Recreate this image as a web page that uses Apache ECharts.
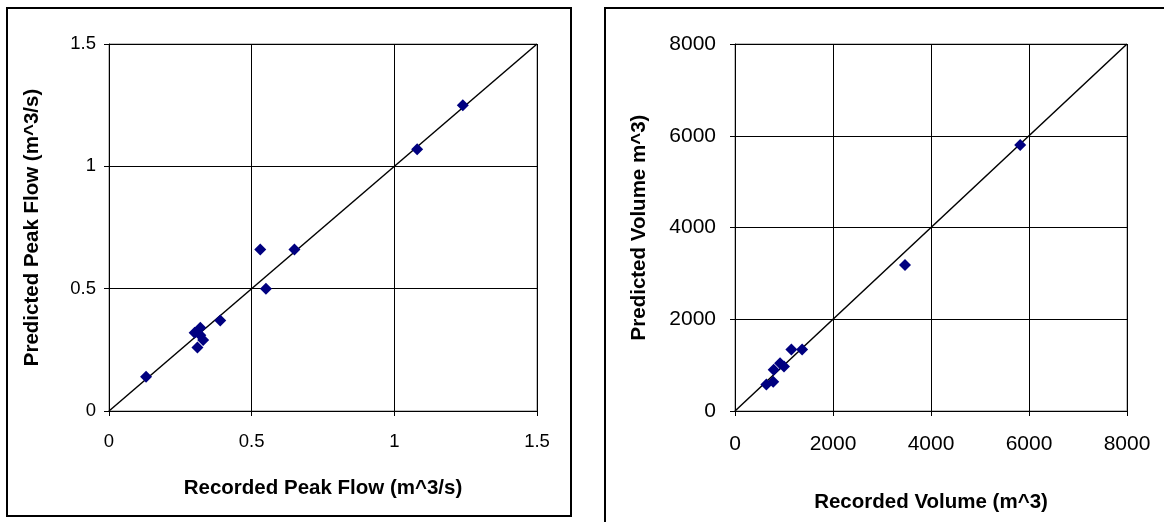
<!DOCTYPE html>
<html>
<head>
<meta charset="utf-8">
<script src="https://cdn.jsdelivr.net/npm/echarts@6/dist/echarts.min.js"></script>
<style>
  html, body { margin: 0; padding: 0; background: #fff; }
  #chart { width: 1164px; height: 522px; }
</style>
</head>
<body>
<div id="chart"></div>
<script>
// Peak flow: recorded vs predicted (m^3/s)
const recordedPeak  = [0.13, 0.30, 0.32, 0.33, 0.31, 0.32, 0.39, 0.53, 0.55, 0.65, 1.08, 1.24];
const predictedPeak = [0.14, 0.32, 0.34, 0.29, 0.26, 0.31, 0.37, 0.66, 0.50, 0.66, 1.07, 1.25];
const peakTicks = [0, 0.5, 1, 1.5];

// Volume: recorded vs predicted (m^3)
const recordedVolume  = [640, 780, 790, 920, 1000, 1150, 1370, 3470, 5820];
const predictedVolume = [580, 640, 900, 1040, 970, 1340, 1340, 3180, 5800];
const volumeTicks = [0, 2000, 4000, 6000, 8000];

// 1:1 reference lines
const peakLine = [[0, 0], [1.5, 1.5]];
const volumeLine = [[0, 0], [8000, 8000]];

const FONT = '"Liberation Sans", Arial, sans-serif';
const pairs = (xs, ys) => xs.map((x, i) => [x, ys[i]]);
const plain = v => String(v);

function valueAxis(ticks, gridIndex, opts) {
  return Object.assign({
    type: 'value',
    gridIndex: gridIndex,
    min: ticks[0],
    max: ticks[ticks.length - 1],
    interval: ticks[1] - ticks[0],
    nameLocation: 'middle',
    axisLine: { show: true, onZero: false, lineStyle: { color: '#000', width: 1 } },
    axisTick: { show: true, inside: false, length: 5, lineStyle: { color: '#000', width: 1 } },
    splitLine: { show: true, lineStyle: { color: '#000', width: 1 } }
  }, opts);
}

const chart = echarts.init(document.getElementById('chart'), null, { renderer: 'canvas' });

chart.setOption({
  animation: false,
  backgroundColor: '#fff',
  graphic: [
    { type: 'rect', shape: { x: 7, y: 8, width: 564, height: 508 },
      style: { fill: 'none', stroke: '#000', lineWidth: 2 }, z: 100 },
    { type: 'rect', shape: { x: 605, y: 8, width: 700, height: 700 },
      style: { fill: 'none', stroke: '#000', lineWidth: 2 }, z: 100 }
  ],
  grid: [
    { left: 109, top: 44, width: 428, height: 367, show: true,
      borderColor: '#808080', borderWidth: 1, backgroundColor: 'transparent' },
    { left: 735, top: 44, width: 392, height: 367, show: true,
      borderColor: '#808080', borderWidth: 1, backgroundColor: 'transparent' }
  ],
  xAxis: [
    valueAxis(peakTicks, 0, {
      name: 'Recorded Peak Flow (m^3/s)', nameGap: 67,
      nameTextStyle: { color: '#000', fontFamily: FONT, fontWeight: 'bold', fontSize: 20.5 },
      axisLabel: { color: '#000', fontFamily: FONT, fontSize: 18.5, margin: 21, formatter: plain }
    }),
    valueAxis(volumeTicks, 1, {
      name: 'Recorded Volume (m^3)', nameGap: 81,
      nameTextStyle: { color: '#000', fontFamily: FONT, fontWeight: 'bold', fontSize: 20.5 },
      axisLabel: { color: '#000', fontFamily: FONT, fontSize: 21, margin: 23, formatter: plain }
    })
  ],
  yAxis: [
    valueAxis(peakTicks, 0, {
      name: 'Predicted Peak Flow (m^3/s)', nameGap: 66,
      nameTextStyle: { color: '#000', fontFamily: FONT, fontWeight: 'bold', fontSize: 20.5 },
      axisLabel: { color: '#000', fontFamily: FONT, fontSize: 18.5, margin: 13, formatter: plain }
    }),
    valueAxis(volumeTicks, 1, {
      name: 'Predicted Volume m^3)', nameGap: 85,
      nameTextStyle: { color: '#000', fontFamily: FONT, fontWeight: 'bold', fontSize: 20.5 },
      axisLabel: { color: '#000', fontFamily: FONT, fontSize: 21, margin: 19, formatter: plain }
    })
  ],
  series: [
    { type: 'line', xAxisIndex: 0, yAxisIndex: 0, data: peakLine, symbol: 'none',
      lineStyle: { color: '#000', width: 1.5 }, z: 3 },
    { type: 'scatter', xAxisIndex: 0, yAxisIndex: 0, data: pairs(recordedPeak, predictedPeak),
      symbol: 'diamond', symbolSize: [12, 12], itemStyle: { color: '#000080', opacity: 1 }, z: 4 },
    { type: 'line', xAxisIndex: 1, yAxisIndex: 1, data: volumeLine, symbol: 'none',
      lineStyle: { color: '#000', width: 1.5 }, z: 3 },
    { type: 'scatter', xAxisIndex: 1, yAxisIndex: 1, data: pairs(recordedVolume, predictedVolume),
      symbol: 'diamond', symbolSize: [12, 12], itemStyle: { color: '#000080', opacity: 1 }, z: 4 }
  ]
});
</script>
</body>
</html>
